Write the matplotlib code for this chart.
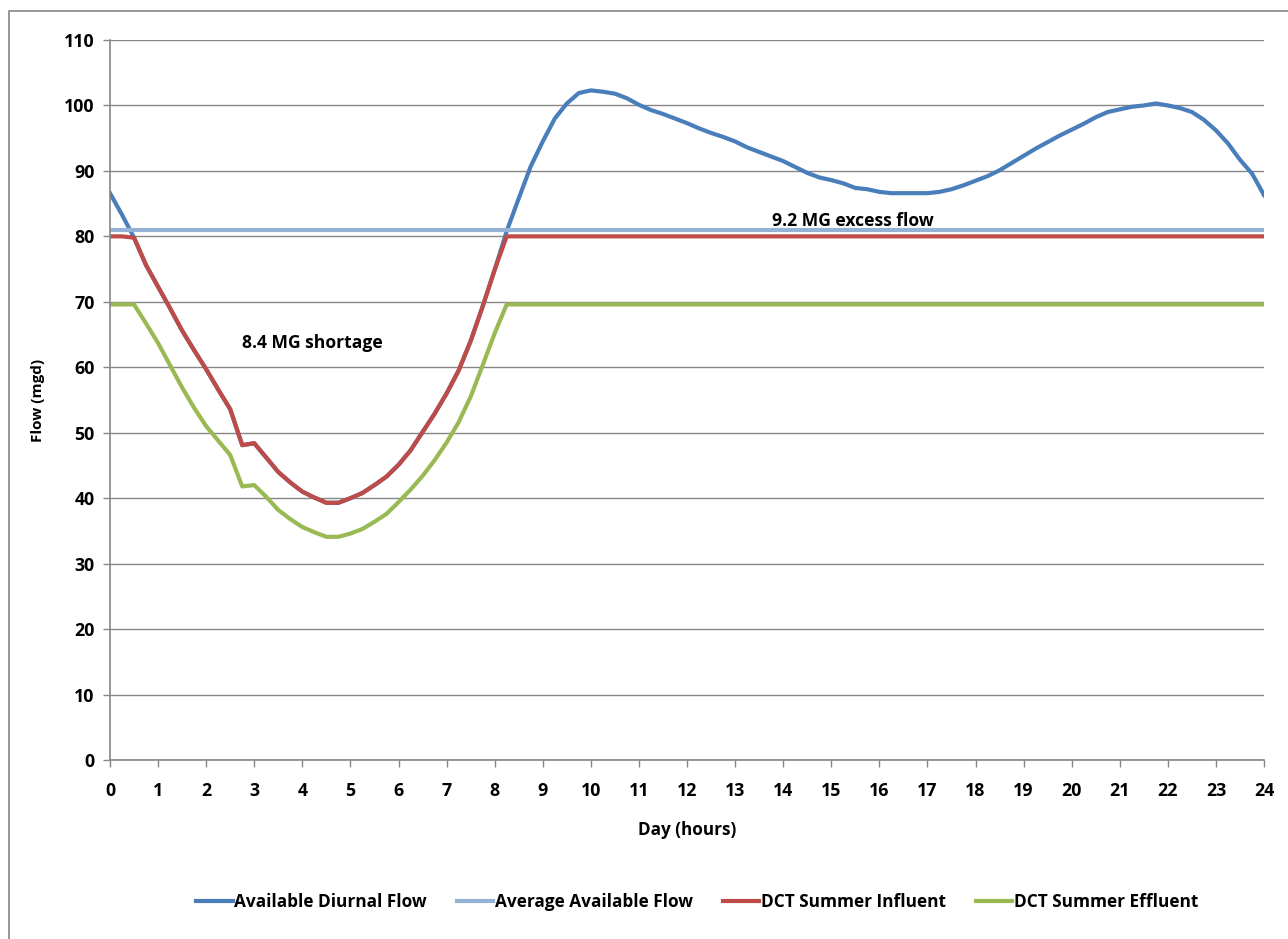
import numpy as np
import matplotlib.pyplot as plt
from matplotlib.patches import Rectangle

plt.rcParams['font.family'] = ['Open Sans', 'DejaVu Sans']
plt.rcParams['font.weight'] = 'bold'

# quarter-hour readings over one day
hours = np.arange(0, 24.01, 0.25)

available_flow = [
    86.6, 83.3, 79.8, 75.6, 72.3, 69.0, 65.6, 62.6, 59.7, 56.6, 53.6, 48.1,
    48.4, 46.2, 44.0, 42.4, 41.0, 40.1, 39.3, 39.3, 40.0, 40.8, 42.0, 43.3,
    45.1, 47.3, 50.1, 52.9, 56.0, 59.5, 64.0, 69.3, 74.9, 80.8, 85.8, 90.7,
    94.5, 98.0, 100.3, 101.9, 102.3, 102.1, 101.8, 101.1, 100.1, 99.3, 98.7, 98.0,
    97.3, 96.5, 95.8, 95.2, 94.5, 93.6, 92.9, 92.2, 91.5, 90.6, 89.7, 89.0,
    88.6, 88.1, 87.4, 87.2, 86.8, 86.6, 86.6, 86.6, 86.6, 86.8, 87.2, 87.8,
    88.5, 89.2, 90.1, 91.2, 92.3, 93.4, 94.4, 95.4, 96.3, 97.2, 98.2, 99.0,
    99.4, 99.8, 100.0, 100.3, 100.0, 99.6, 99.0, 97.8, 96.2, 94.2, 91.7, 89.6,
    86.3,
]

average_flow = [80.9] * len(hours)

summer_influent = [
    80.0, 80.0, 79.8, 75.6, 72.3, 69.0, 65.6, 62.6, 59.7, 56.6, 53.6, 48.1,
    48.4, 46.2, 44.0, 42.4, 41.0, 40.1, 39.3, 39.3, 40.0, 40.8, 42.0, 43.3,
    45.1, 47.3, 50.1, 52.9, 56.0, 59.5, 64.0, 69.3, 74.9,
] + [80.0] * 64

summer_effluent = [
    69.6, 69.6, 69.6, 66.7, 63.7, 60.3, 56.9, 53.8, 51.0, 48.8, 46.6, 41.8,
    42.0, 40.2, 38.2, 36.8, 35.6, 34.8, 34.1, 34.1, 34.6, 35.3, 36.4, 37.6,
    39.4, 41.3, 43.4, 45.8, 48.5, 51.6, 55.5, 60.3, 65.2,
] + [69.6] * 64

fig = plt.figure(figsize=(12.88, 9.39), dpi=100)
ax = fig.add_axes([0.0854, 0.1906, 0.896, 0.7668])

lw = 3.0
ax.plot(hours, available_flow, color='#4A7EBB', lw=lw, label='Available Diurnal Flow')
ax.plot(hours, average_flow, color='#94B2D6', lw=lw, label='Average Available Flow')
ax.plot(hours, summer_influent, color='#BE4B48', lw=lw, label='DCT Summer Influent')
ax.plot(hours, summer_effluent, color='#98B954', lw=lw, label='DCT Summer Effluent')

ax.text(4.2, 63.7, '8.4 MG shortage', ha='center', va='center', fontsize=12.6, fontweight='bold')
ax.text(15.45, 82.4, '9.2 MG excess flow', ha='center', va='center', fontsize=12.6, fontweight='bold')

ax.set_xlim(0, 24)
ax.set_ylim(0, 110)
ax.set_xticks(range(0, 25))
ax.set_yticks(range(0, 111, 10))
ax.grid(axis='y', color='#868686', lw=1.0)
ax.set_axisbelow(True)
for side in ['top', 'right']:
    ax.spines[side].set_visible(False)
for side in ['left', 'bottom']:
    ax.spines[side].set_color('#868686')
    ax.spines[side].set_linewidth(1.2)
ax.tick_params(axis='both', colors='#868686', labelcolor='black', length=5, width=1,
               labelsize=12.8)
ax.tick_params(axis='x', pad=11)
ax.tick_params(axis='y', pad=6)
for lbl in ax.get_xticklabels() + ax.get_yticklabels():
    lbl.set_fontweight('bold')

ax.set_xlabel('Day (hours)', fontsize=12.3, fontweight='bold', labelpad=15)
ax.set_ylabel('Flow (mgd)', fontsize=11, fontweight='bold', labelpad=14)

ax.legend(loc='center', bbox_to_anchor=(0.509, -0.197), ncol=4, frameon=False,
          handlelength=2.1, columnspacing=1.75, handletextpad=0.1,
          prop={'weight': 'bold', 'size': 12.4})

# chart border
fig.patches.append(Rectangle((9 / 1288, -0.05), 1.2, 1 - 11 / 939 + 0.05,
                             transform=fig.transFigure, fill=False,
                             edgecolor='#868686', lw=1.2))

fig.savefig('out.png', dpi=100)
